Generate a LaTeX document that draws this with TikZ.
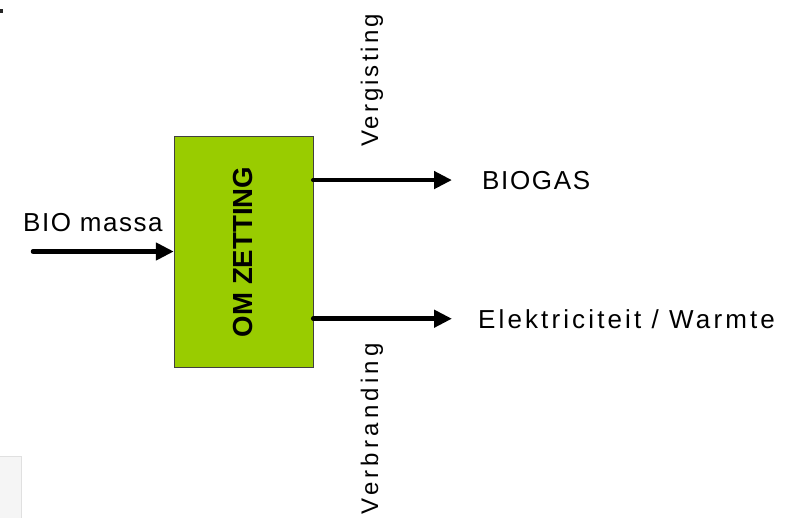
\documentclass[tikz,border=0pt]{standalone}
\usepackage{fontspec}
\setmainfont{Liberation Sans}
\usetikzlibrary{arrows.meta,positioning}
\definecolor{omzgroen}{RGB}{153,204,0}

\tikzset{
  tekst/.style={font=\fontsize{26}{30}\selectfont\addfontfeatures{LetterSpace=#1}, inner sep=0pt},
  tekst/.default=5,
  zijtekst/.style={font=\fontsize{24}{28}\selectfont\addfontfeatures{LetterSpace=#1}, inner sep=0pt, rotate=90, anchor=base west},
  pijl/.style={line width=4.5pt, line cap=round, -{Triangle[length=18pt,width=17pt]}},
}

\begin{document}
\begin{tikzpicture}[x=1pt,y=-1pt]
  \useasboundingbox (0,0) rectangle (792,517);

  % restjes van de schermafdruk
  \fill[black!85] (0,9) rectangle (3,13);
  \filldraw[fill=black!4, draw=black!12] (-1,456) rectangle (21,518);

  % omzetting
  \node[draw=black!75, fill=omzgroen, minimum width=139pt, minimum height=231pt, inner sep=0pt] (omz) at (243.5,251.5) {};
  \node[rotate=90, inner sep=0pt, font=\bfseries\fontsize{27.6}{30}\selectfont] (omztxt) at (242.5,252) {OM ZETTING};

  % in- en uitgangen
  \node[tekst=6, anchor=base west] (bio) at (23,231) {BIO massa};
  \node[tekst=6.4, anchor=base west] (biogas) at (482,189) {BIOGAS};
  \node[tekst=12, anchor=base west] (elek) at (478,328) {Elektriciteit / Warmte};
  \node[zijtekst=12.6] (vergist) at (378,147) {Vergisting};
  \node[zijtekst=17.5] (verbrand) at (378,515) {Verbranding};

  % pijlen
  \coordinate (bron) at (33,251.5);
  \draw[pijl] (bron) -- (omz.west);
  \draw[pijl] (omz.east |- biogas) -- ([xshift=-30pt]biogas.west);
  \draw[pijl] (omz.east |- elek) -- ([xshift=-26pt]elek.west);
\end{tikzpicture}
\end{document}
